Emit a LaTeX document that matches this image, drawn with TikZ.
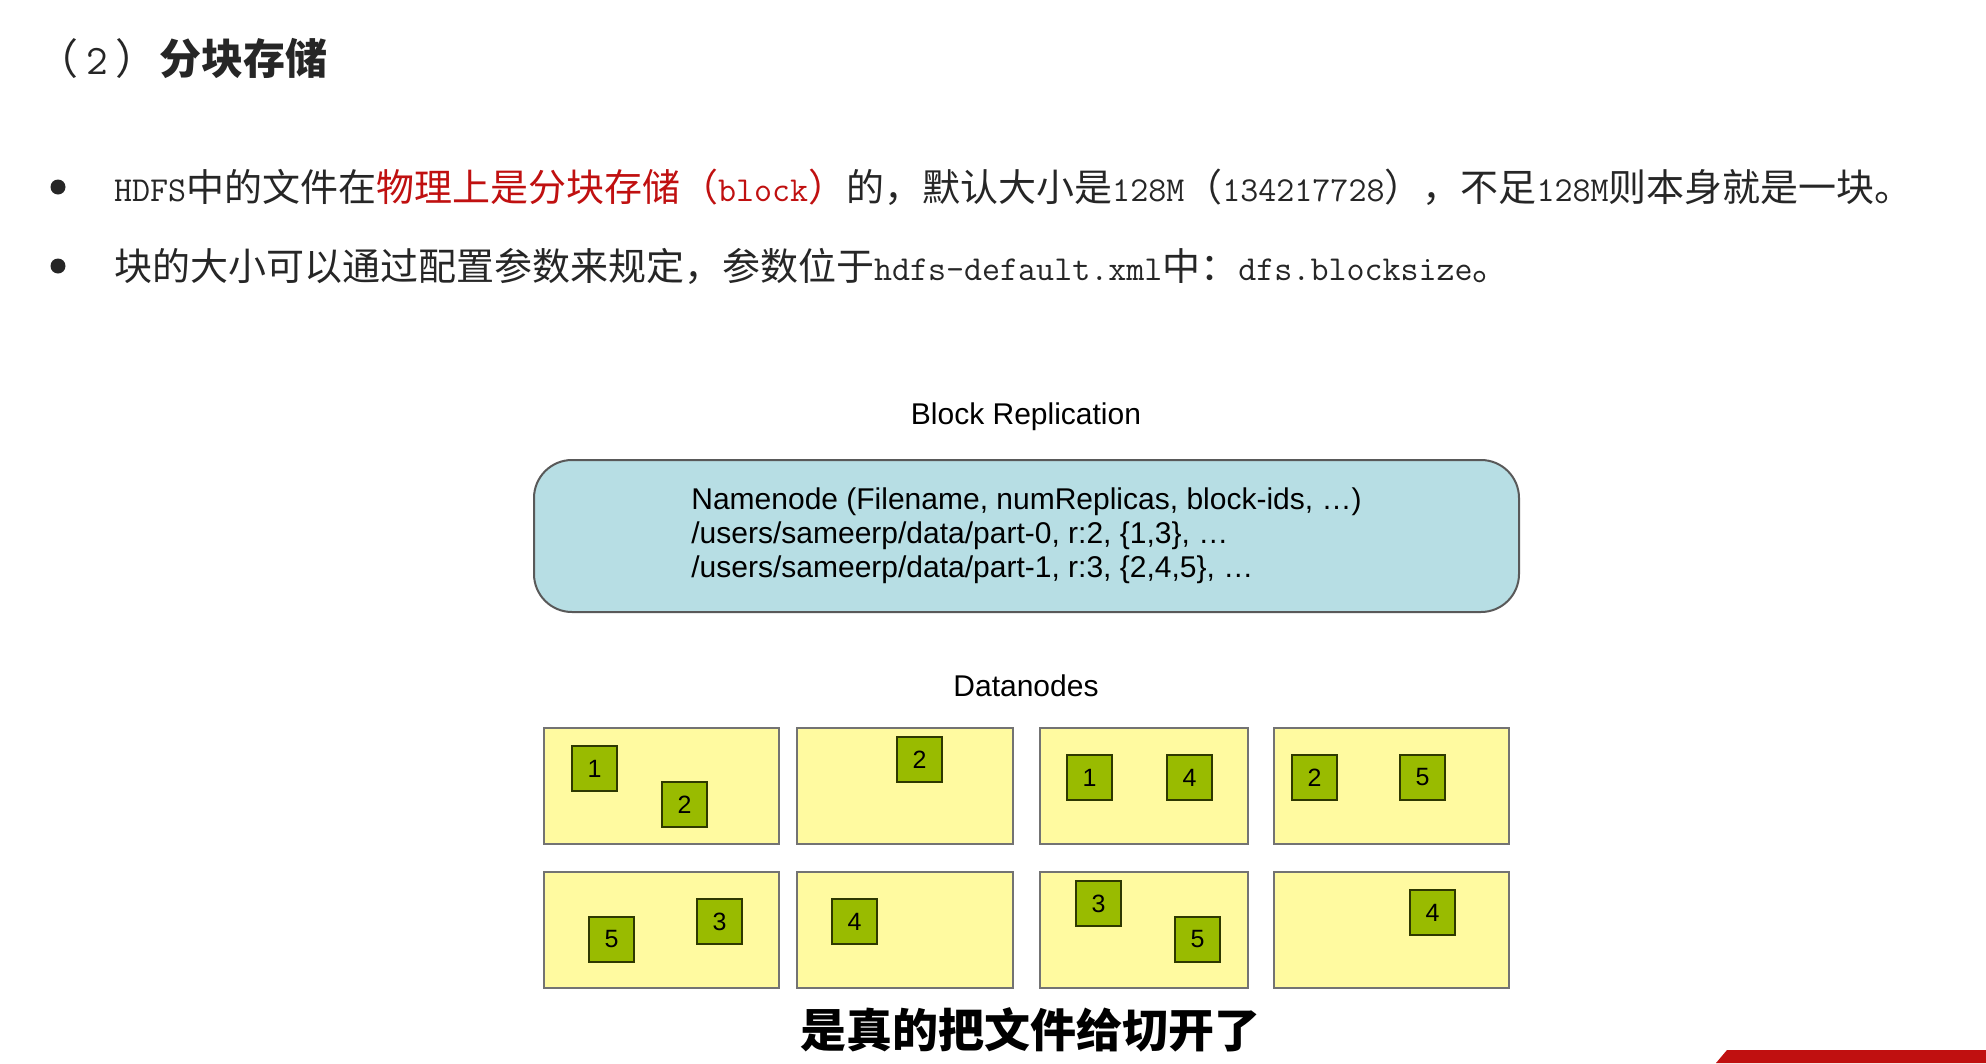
\documentclass[tikz,border=0pt]{standalone}
\usepackage{fontspec}
\setmainfont{Liberation Sans}
\newfontfamily\cjk{Noto Sans CJK SC}
\usetikzlibrary{positioning}
\definecolor{namefill}{RGB}{183,222,228}
\definecolor{datafill}{RGB}{255,250,160}
\definecolor{blockfill}{RGB}{153,187,0}
\definecolor{hlred}{RGB}{192,16,16}
\definecolor{textgray}{RGB}{38,38,38}
\newcommand{\lat}[1]{{\ttfamily\fontsize{35}{35}\selectfont #1}}
\tikzset{every node/.style={inner sep=0pt, outer sep=0pt}}
\tikzset{namebox/.style={draw=black!65, line width=2pt, fill=namefill, rounded corners=38pt, minimum width=985pt, minimum height=152pt, align=left, font=\fontsize{30}{34}\selectfont}}
\tikzset{datanode/.style={draw=black!55, line width=2pt, fill=datafill, minimum height=116pt}}
\tikzset{blk/.style={draw=black!70!blockfill, line width=1.5pt, fill=blockfill, minimum size=45pt, font=\fontsize{25}{25}\selectfont}}
\tikzset{caption/.style={font=\fontsize{30}{30}\selectfont}}
\tikzset{bullet/.style={circle, fill=textgray, minimum size=15pt}}
\tikzset{line/.style={anchor=west, text=textgray, font=\fontsize{38}{38}\selectfont}}

\begin{document}
\begin{tikzpicture}[x=1pt, y=-1pt, node distance=27pt]
  \useasboundingbox (0,0) rectangle (1986,1063);
  \fill[white] (0,0) rectangle (1986,1063);

  \node (title) [anchor=west, text=textgray, font=\fontsize{42}{42}\selectfont\cjk] at (36,58) {（\hspace{8pt}{\ttfamily\fontsize{42}{42}\selectfont 2}\hspace{8pt}）\hspace{2pt}{\bfseries 分块存储}};

  \node (dot1) [bullet] at (58,187) {};
  \node (line1) [line] at (114,187) {\lat{HDFS}\cjk 中的文件在\textcolor{hlred}{物理上是分块存储（\lat{block}）}的，默认大小是\lat{128M}（\lat{134217728}），不足\lat{128M}则本身就是一块。};
  \node (dot2) [bullet] at (58,266) {};
  \node (line2) [line] at (114,266) {\cjk 块的大小可以通过配置参数来规定，参数位于\lat{hdfs-default.xml}中：\lat{dfs.blocksize}。};

  \node (replabel) [caption] at (1026,417) {Block Replication};
  \node (namenode) [namebox] at (1026.5,536) {Namenode (Filename, numReplicas, block-ids, \dots)\\
    /users/sameerp/data/part-0, r:2, \{1,3\}, \dots\\
    /users/sameerp/data/part-1, r:3, \{2,4,5\}, \dots};

  \node (dnlabel) [caption] at (1026,686) {Datanodes};

  \node (d11) [datanode, minimum width=235pt, anchor=north west] at (544,728) {};
  \node (d12) [datanode, minimum width=216pt, right=18pt of d11] {};
  \node (d13) [datanode, minimum width=208pt, right=of d12] {};
  \node (d14) [datanode, minimum width=235pt, right=26pt of d13] {};
  \node (d21) [datanode, minimum width=235pt, below=28pt of d11] {};
  \node (d22) [datanode, minimum width=216pt, below=28pt of d12] {};
  \node (d23) [datanode, minimum width=208pt, below=28pt of d13] {};
  \node (d24) [datanode, minimum width=235pt, below=28pt of d14] {};

  \node (d11b1) [blk, below right=18pt and 28pt of d11.north west] {1};
  \node (d11b2) [blk, below right=54pt and 118pt of d11.north west] {2};
  \node (d12b2) [blk, below right=9pt and 100pt of d12.north west] {2};
  \node (d13b1) [blk, below right=27pt and 27pt of d13.north west] {1};
  \node (d13b4) [blk, below right=27pt and 127pt of d13.north west] {4};
  \node (d14b2) [blk, below right=27pt and 18pt of d14.north west] {2};
  \node (d14b5) [blk, below right=27pt and 126pt of d14.north west] {5};

  \node (d21b5) [blk, below right=45pt and 45pt of d21.north west] {5};
  \node (d21b3) [blk, below right=27pt and 153pt of d21.north west] {3};
  \node (d22b4) [blk, below right=27pt and 35pt of d22.north west] {4};
  \node (d23b3) [blk, below right=9pt and 36pt of d23.north west] {3};
  \node (d23b5) [blk, below right=45pt and 135pt of d23.north west] {5};
  \node (d24b4) [blk, below right=18pt and 136pt of d24.north west] {4};

  \node (subtitle) [font=\fontsize{46}{46}\selectfont\cjk\bfseries] at (1030,1030) {是真的把文件给切开了};
  \fill[hlred] (1716,1063) -- (1727,1050) -- (1986,1050) -- (1986,1063) -- cycle;
\end{tikzpicture}
\end{document}
